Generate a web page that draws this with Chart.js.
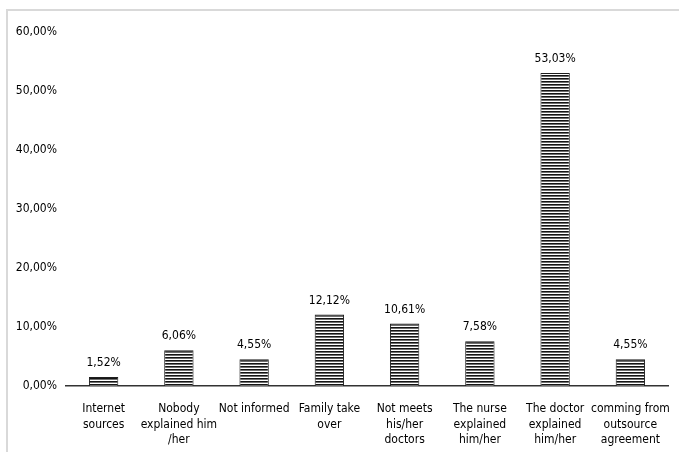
<!DOCTYPE html>
<html>
<head>
<meta charset="utf-8">
<script src="https://cdn.jsdelivr.net/npm/chart.js@4/dist/chart.umd.min.js"></script>
<style>
  html, body { margin: 0; padding: 0; background: #fff; }
  #wrap { position: relative; width: 679px; height: 452px; overflow: hidden; }
  #frame { position: absolute; left: 6px; top: 9px; width: 900px; height: 700px;
           border-left: 2px solid #d9d9d9; border-top: 2px solid #d9d9d9; box-sizing: border-box; }
  canvas { position: absolute; left: 0; top: 0; }
</style>
</head>
<body>
<div id="wrap">
  <div id="frame"></div>
  <canvas id="chart" width="679" height="452"></canvas>
</div>
<script>
// Categories (multi-line labels) and percentage values
const categories = [
  ["Internet", "sources"],
  ["Nobody", "explained him", "/her"],
  ["Not informed"],
  ["Family take", "over"],
  ["Not meets", "his/her", "doctors"],
  ["The nurse", "explained", "him/her"],
  ["The doctor", "explained", "him/her"],
  ["comming from", "outsource", "agreement"]
];
const percentages = [1.52, 6.06, 4.55, 12.12, 10.61, 7.58, 53.03, 4.55];
const yTicks = [0, 10, 20, 30, 40, 50, 60];

const FONT = "'DejaVu Sans Condensed', 'Liberation Sans Narrow', sans-serif";

function fmtPct(v) {
  return v.toFixed(2).replace('.', ',') + '%';
}

// Horizontal stripe fill for the bars
function stripePattern() {
  const c = document.createElement('canvas');
  c.width = 4; c.height = 3;
  const g = c.getContext('2d');
  g.fillStyle = '#ffffff'; g.fillRect(0, 0, 4, 3);
  g.fillStyle = '#141414'; g.fillRect(0, 0, 4, 1);
  g.fillStyle = '#6e6e6e'; g.fillRect(0, 1, 4, 1);
  return g.createPattern(c, 'repeat');
}

// Value labels above each bar
const valueLabels = {
  id: 'valueLabels',
  afterDatasetsDraw(chart) {
    const ctx = chart.ctx;
    const meta = chart.getDatasetMeta(0);
    ctx.save();
    ctx.font = '12px ' + FONT;
    ctx.fillStyle = '#000';
    ctx.textAlign = 'center';
    ctx.textBaseline = 'middle';
    meta.data.forEach((bar, i) => {
      ctx.fillText(fmtPct(percentages[i]), bar.x, bar.y - 14);
    });
    ctx.restore();
  }
};

new Chart(document.getElementById('chart'), {
  type: 'bar',
  data: {
    labels: categories,
    datasets: [{
      data: percentages,
      backgroundColor: stripePattern(),
      borderColor: '#1e1e1e',
      borderWidth: 1,
      categoryPercentage: 1,
      barPercentage: 0.39
    }]
  },
  options: {
    responsive: false,
    animation: false,
    layout: { padding: { left: 0, right: 11, top: 32, bottom: 0 } },
    plugins: { legend: { display: false }, tooltip: { enabled: false } },
    scales: {
      x: {
        grid: { display: false, drawTicks: false },
        border: { display: true, color: '#333', width: 1.5 },
        ticks: {
          color: '#000', padding: 15, maxRotation: 0, autoSkip: false,
          font: { family: FONT, size: 12, lineHeight: 1.3 }
        },
        afterFit(scale) {
          scale.height = 66;
          scale.paddingLeft = 0;
          scale.paddingRight = 0;
        }
      },
      y: {
        min: 0, max: 60,
        grid: { display: false, drawTicks: false },
        border: { display: false },
        afterBuildTicks(scale) { scale.ticks = yTicks.map(v => ({ value: v })); },
        ticks: {
          color: '#000', padding: 9,
          font: { family: FONT, size: 12 },
          callback: v => fmtPct(v)
        },
        afterFit(scale) {
          scale.width = 66;
          scale.paddingTop = 0;
          scale.paddingBottom = 0;
        }
      }
    }
  },
  plugins: [valueLabels]
});
</script>
</body>
</html>
